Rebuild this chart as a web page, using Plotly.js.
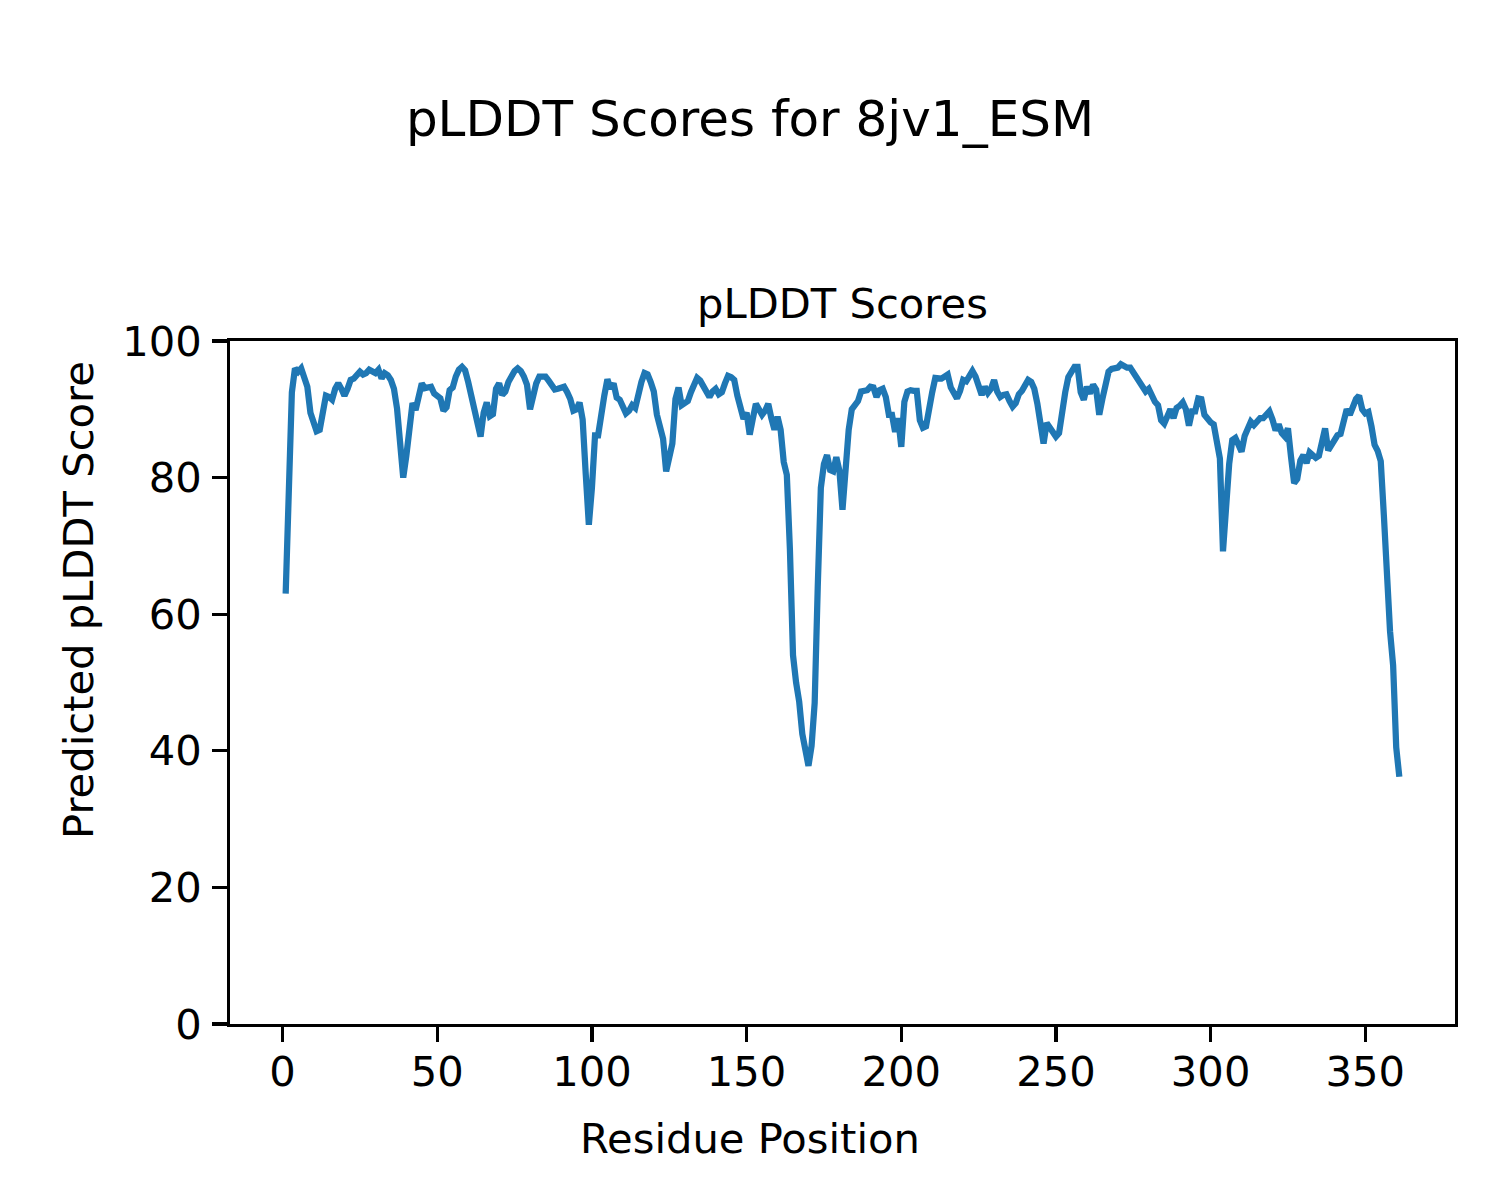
<!DOCTYPE html>
<html>
<head>
<meta charset="utf-8">
<script src="https://cdn.plot.ly/plotly-3.0.1.min.js"></script>
<style>
  html, body { margin: 0; padding: 0; background: #ffffff; }
  #chart { width: 1500px; height: 1200px; }
</style>
</head>
<body>
<div id="chart"></div>
<script>
// pLDDT score per residue (residue 1 .. 361)
const scores = [
  63, 81.5, 92.5, 96, 95.5, 96, 94.8, 93.3, 89.5, 88,
  86.8, 87, 89.5, 92, 91.8, 91.4, 93, 93.8, 93, 92,
  93, 94.3, 94.5, 95, 95.5, 95.1, 95.3, 95.8, 95.5, 95.3,
  95.8, 94.5, 95.3, 95, 94.3, 93, 90.1, 84.5, 80, 83.2,
  87, 90.9, 89.9, 92.3, 93.8, 93.1, 93.1, 93.3, 92.3, 92,
  91.6, 89.8, 90.3, 92.8, 93.2, 94.8, 95.8, 96.2, 95.7, 94,
  92, 89, 87.7, 86, 89.5, 91, 89, 89.3, 93, 93.8,
  92.1, 92.6, 94, 95, 95.6, 96, 95.6, 94.8, 93.6, 90,
  92, 93.8, 94.8, 94.9, 94.8, 94.2, 93.5, 92.9, 93, 93.2,
  93.3, 92.5, 91.5, 89.8, 90, 91, 88.5, 80.5, 73.1, 78.5,
  86.2, 86.2, 89.5, 92, 94.4, 93, 93.8, 91.7, 91.4, 90.5,
  89.4, 89.8, 90.6, 90.2, 92.5, 94, 95.3, 95.1, 94, 92.6,
  89.2, 87.3, 85.7, 80.9, 82.8, 85, 91.5, 93.2, 90.6, 90.8,
  91.2, 92.5, 93.8, 94.6, 94.2, 93.5, 92.6, 91.8, 92.6, 93,
  92.2, 92.5, 93.8, 94.9, 94.7, 94.3, 92, 89.8, 88.6, 89.5,
  86.3, 88.6, 90.8, 90, 89.2, 89.8, 90.8, 88.7, 87, 88.9,
  87, 82.3, 80.4, 69.5, 54, 50, 47.2, 42.5, 39.5, 37.8,
  40.7, 47, 64, 78.5, 82, 83.3, 81.1, 80.9, 83, 81,
  75.3, 82.5, 87, 90, 90.6, 91.2, 92.6, 92.8, 92.8, 93.3,
  93.2, 91.8, 92.8, 93, 91.8, 89.2, 89.2, 86.7, 88.7, 84.5,
  91.1, 92.6, 92.8, 92.7, 92.7, 88.4, 87.3, 87.5, 89.5, 92.5,
  94.6, 94.6, 94.5, 94.8, 95.1, 93.2, 92.2, 91.6, 92.7, 94.3,
  94.1, 94.8, 95.6, 94.8, 93, 92.1, 93.3, 92.4, 93, 94.3,
  92.6, 91.8, 92.1, 92.2, 91.2, 90.4, 90.9, 92.2, 92.7, 93.5,
  94.3, 94, 93, 90.8, 88, 85, 88, 87.3, 86.6, 86,
  86.5, 89.8, 92.5, 94.7, 95.6, 96.2, 96.2, 92.5, 91.4, 93.3,
  92.3, 93.6, 92.9, 89.2, 91.5, 93.8, 95.5, 95.9, 96, 96.1,
  96.6, 96.3, 96.1, 96.1, 95.4, 94.7, 94, 93.3, 92.6, 93,
  92, 91.1, 90.6, 88.4, 87.9, 89, 90, 88.7, 90.2, 90.5,
  91, 90, 87.6, 89.7, 89.7, 91.6, 91.5, 89.2, 88.6, 88.1,
  87.8, 85.8, 82.8, 69.2, 77.5, 82, 85.5, 85.8, 84.8, 83.8,
  86.1, 87.3, 88.2, 87.7, 88.4, 88.7, 88.7, 89.4, 89.7, 88.5,
  86.9, 87.8, 86.5, 86, 87.2, 83, 79.2, 79.8, 82.5, 83.3,
  82.1, 83.7, 83.2, 82.9, 83.2, 85.5, 87.2, 84, 84.8, 85.6,
  86.2, 86.4, 88.3, 90, 89.2, 90.7, 91.5, 92, 90, 89.4,
  89.6, 87.5, 84.8, 83.9, 82.4, 74.5, 65.5, 57.5, 52.5, 40.5,
  36.2
];
// residue positions (1-based index of each score)
const residues = scores.map((_, i) => i + 1);

const xTicks = [0, 50, 100, 150, 200, 250, 300, 350];
const yTicks = [0, 20, 40, 60, 80, 100];

const figTitle = "pLDDT Scores for 8jv1_ESM";
const axesTitle = "pLDDT Scores";
const xLabel = "Residue Position";
const yLabel = "Predicted pLDDT Score";

const FONT = "DejaVu Sans, Liberation Sans, sans-serif";
const S10 = 41.67, S12 = 50;

const trace = {
  x: residues,
  y: scores,
  type: "scatter",
  mode: "lines",
  line: { color: "#1f77b4", width: 6.25 },
  hoverinfo: "x+y"
};

const L = 230, R = 1455, T = 341, B = 1024, W = 1500, H = 1200;
const pw = R - L, ph = B - T;
const px = v => (v - L) / pw;
const py = v => (B - v) / ph;

const axisCommon = {
  showgrid: false,
  zeroline: false,
  showline: true,
  linecolor: "#000000",
  linewidth: 3.33,
  mirror: true,
  ticks: "outside",
  ticklen: 14.6,
  tickwidth: 3.33,
  tickcolor: "#000000",
  tickfont: { family: FONT, size: S10, color: "#000000" },
  automargin: false
};

const layout = {
  width: W,
  height: H,
  paper_bgcolor: "#ffffff",
  plot_bgcolor: "#ffffff",
  showlegend: false,
  margin: { l: L, r: W - R, t: T, b: H - B, pad: 0 },
  font: { family: FONT, color: "#000000" },
  title: {
    text: figTitle,
    font: { family: FONT, size: S12, color: "#000000" },
    xref: "container", x: 0.5, xanchor: "center",
    yref: "container", y: 1 - 118 / H, yanchor: "middle"
  },
  xaxis: Object.assign({}, axisCommon, {
    range: [-17, 379],
    tickmode: "array",
    tickvals: xTicks,
    ticktext: xTicks.map(String),
    ticklabelstandoff: -6
  }),
  yaxis: Object.assign({}, axisCommon, {
    range: [0, 100],
    tickmode: "array",
    tickvals: yTicks,
    ticktext: yTicks.map(String),
    ticklabelstandoff: 2
  }),
  annotations: [
    {
      text: axesTitle, xref: "paper", yref: "paper",
      x: 0.5, y: py(303), xanchor: "center", yanchor: "middle",
      showarrow: false, font: { family: FONT, size: S10, color: "#000000" }
    },
    {
      text: xLabel, xref: "paper", yref: "paper",
      x: px(750), y: py(1138), xanchor: "center", yanchor: "middle",
      showarrow: false, font: { family: FONT, size: S10, color: "#000000" }
    },
    {
      text: yLabel, xref: "paper", yref: "paper",
      x: px(78), y: py(600), xanchor: "center", yanchor: "middle",
      textangle: -90,
      showarrow: false, font: { family: FONT, size: S10, color: "#000000" }
    }
  ]
};

Plotly.newPlot("chart", [trace], layout, { displayModeBar: false, staticPlot: true });
</script>
</body>
</html>
